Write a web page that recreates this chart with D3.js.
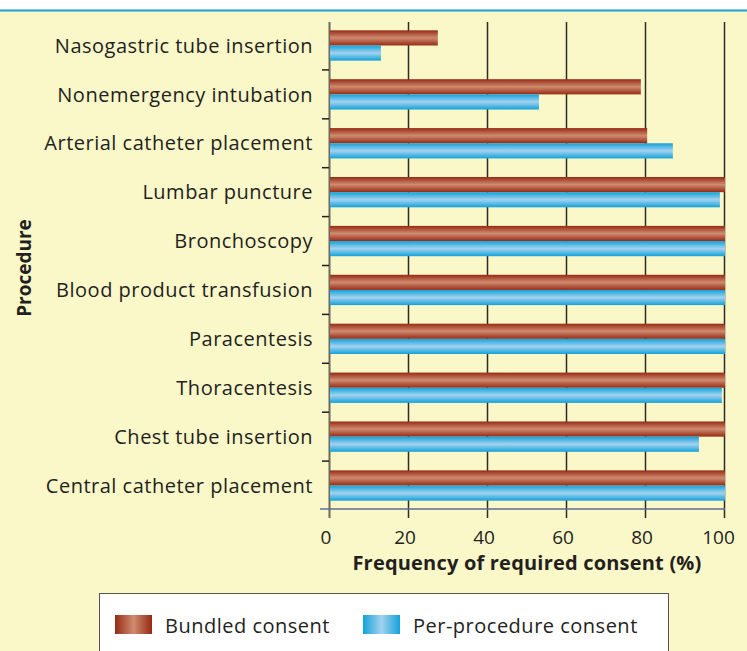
<!DOCTYPE html>
<html>
<head>
<meta charset="utf-8">
<script src="https://cdn.jsdelivr.net/npm/d3@7"></script>
<style>
  body { margin: 0; background: #fff; }
  svg text { font-family: "Open Sans", "Noto Sans", sans-serif; fill: #231f20; }
</style>
</head>
<body>
<div id="chart"></div>
<script>
// consent frequency by procedure
const procedures = [
  "Nasogastric tube insertion",
  "Nonemergency intubation",
  "Arterial catheter placement",
  "Lumbar puncture",
  "Bronchoscopy",
  "Blood product transfusion",
  "Paracentesis",
  "Thoracentesis",
  "Chest tube insertion",
  "Central catheter placement"
];
const bundled = [27.3, 78.7, 80.3, 100, 100, 100, 100, 100, 100, 100];
const perProcedure = [12.9, 52.9, 86.8, 98.7, 100, 100, 100, 99.2, 93.4, 100];
const xTicks = [0, 20, 40, 60, 80, 100];
const seriesNames = ["Bundled consent", "Per-procedure consent"];

const width = 747;
const height = 651;
const FONT = "'Open Sans', 'Noto Sans', sans-serif";

const svg = d3.select("#chart")
  .append("svg")
  .attr("width", width)
  .attr("height", height);

// gradients for the shiny bars
const defs = svg.append("defs");
function grad(id, dark, light, horizontal) {
  const g = defs.append("linearGradient").attr("id", id)
    .attr("x1", 0).attr("y1", 0)
    .attr("x2", horizontal ? 1 : 0).attr("y2", horizontal ? 0 : 1);
  g.append("stop").attr("offset", "0%").attr("stop-color", dark);
  g.append("stop").attr("offset", "50%").attr("stop-color", light);
  g.append("stop").attr("offset", "100%").attr("stop-color", dark);
}
grad("redV", "#962a14", "#cf8b70", false);
grad("blueV", "#12a2da", "#a3d2ef", false);
grad("redH", "#962a14", "#cf8b70", true);
grad("blueH", "#12a2da", "#a3d2ef", true);
const fills = ["url(#redV)", "url(#blueV)"];
const legendFills = ["url(#redH)", "url(#blueH)"];

// background + top strip
svg.append("rect").attr("width", width).attr("height", height).attr("fill", "#faf7c9");
svg.append("rect").attr("width", width).attr("height", 9.5).attr("fill", "#fff");
svg.append("rect").attr("y", 9.5).attr("width", width).attr("height", 2).attr("fill", "#1aa3d6");

const x = d3.scaleLinear().domain([0, 100]).range([329, 724]);
const y = d3.scaleBand().domain(procedures).range([22, 509])
  .paddingInner(0.38).paddingOuter(0.17);
const ySub = d3.scaleBand().domain(seriesNames).range([0, y.bandwidth()]);

// vertical gridlines + x tick labels
const xAxis = svg.append("g")
  .attr("transform", "translate(0,518)")
  .call(d3.axisBottom(x).tickValues(xTicks).tickSizeInner(-496).tickSizeOuter(0).tickPadding(13));
xAxis.select(".domain").remove();
xAxis.selectAll(".tick line")
  .attr("stroke", d => d === 0 ? "#6b6a5c" : "#2e2c24")
  .attr("stroke-width", d => d === 0 ? 2 : 1.5);
xAxis.selectAll(".tick text")
  .attr("font-size", 19)
  .attr("dx", d => d === 100 ? -6 : -3.5)
  .style("font-family", FONT)
  .attr("fill", "#231f20");

// bars
const groups = svg.append("g").selectAll("g")
  .data(procedures)
  .join("g")
  .attr("transform", d => `translate(0,${y(d)})`);

groups.selectAll("rect")
  .data((d, i) => [bundled[i], perProcedure[i]])
  .join("rect")
  .attr("x", x(0) + 1)
  .attr("y", (d, j) => ySub(seriesNames[j]))
  .attr("width", d => x(d) - x(0))
  .attr("height", ySub.bandwidth())
  .attr("fill", (d, j) => fills[j]);

// bottom axis line
svg.append("line")
  .attr("x1", 320).attr("x2", x(100) + 1)
  .attr("y1", 509).attr("y2", 509)
  .attr("stroke", "#5f6b94").attr("stroke-width", 1.5);

// small ticks between categories
const step = y.step();
svg.append("g").selectAll("line")
  .data(procedures.slice(0, -1))
  .join("line")
  .attr("x1", 322).attr("x2", 329)
  .attr("y1", d => y(d) + y.bandwidth() + step * y.paddingInner() / 2)
  .attr("y2", d => y(d) + y.bandwidth() + step * y.paddingInner() / 2)
  .attr("stroke", "#231f20").attr("stroke-width", 1.5);

// category labels
const yAxis = svg.append("g")
  .attr("transform", `translate(${x(0)},0)`)
  .call(d3.axisLeft(y).tickSize(0).tickPadding(16));
yAxis.select(".domain").remove();
yAxis.selectAll(".tick text")
  .attr("font-size", 20)
  .attr("letter-spacing", 0.5)
  .attr("dy", "0.36em")
  .style("font-family", FONT)
  .attr("fill", "#231f20");

// axis titles
svg.append("text")
  .attr("x", 527).attr("y", 570)
  .attr("text-anchor", "middle")
  .attr("font-size", 20).attr("font-weight", "bold")
  .attr("letter-spacing", 0.2)
  .text("Frequency of required consent (%)");

svg.append("text")
  .attr("transform", "translate(31,268) rotate(-90)")
  .attr("text-anchor", "middle")
  .attr("font-size", 19).attr("font-weight", "bold")
  .text("Procedure");

// legend
const legend = svg.append("g");
legend.append("rect")
  .attr("x", 99.5).attr("y", 593.5)
  .attr("width", 569).attr("height", 70)
  .attr("fill", "#fff").attr("stroke", "#555").attr("stroke-width", 1);

const legendX = [115, 363];
const items = legend.selectAll("g.item")
  .data(seriesNames)
  .join("g")
  .attr("class", "item")
  .attr("transform", (d, i) => `translate(${legendX[i]},615)`);
items.append("rect")
  .attr("width", 37).attr("height", 19)
  .attr("fill", (d, i) => legendFills[i]);
items.append("text")
  .attr("x", 50).attr("y", 18)
  .attr("font-size", 20)
  .attr("letter-spacing", 0.5)
  .text(d => d);
</script>
</body>
</html>
